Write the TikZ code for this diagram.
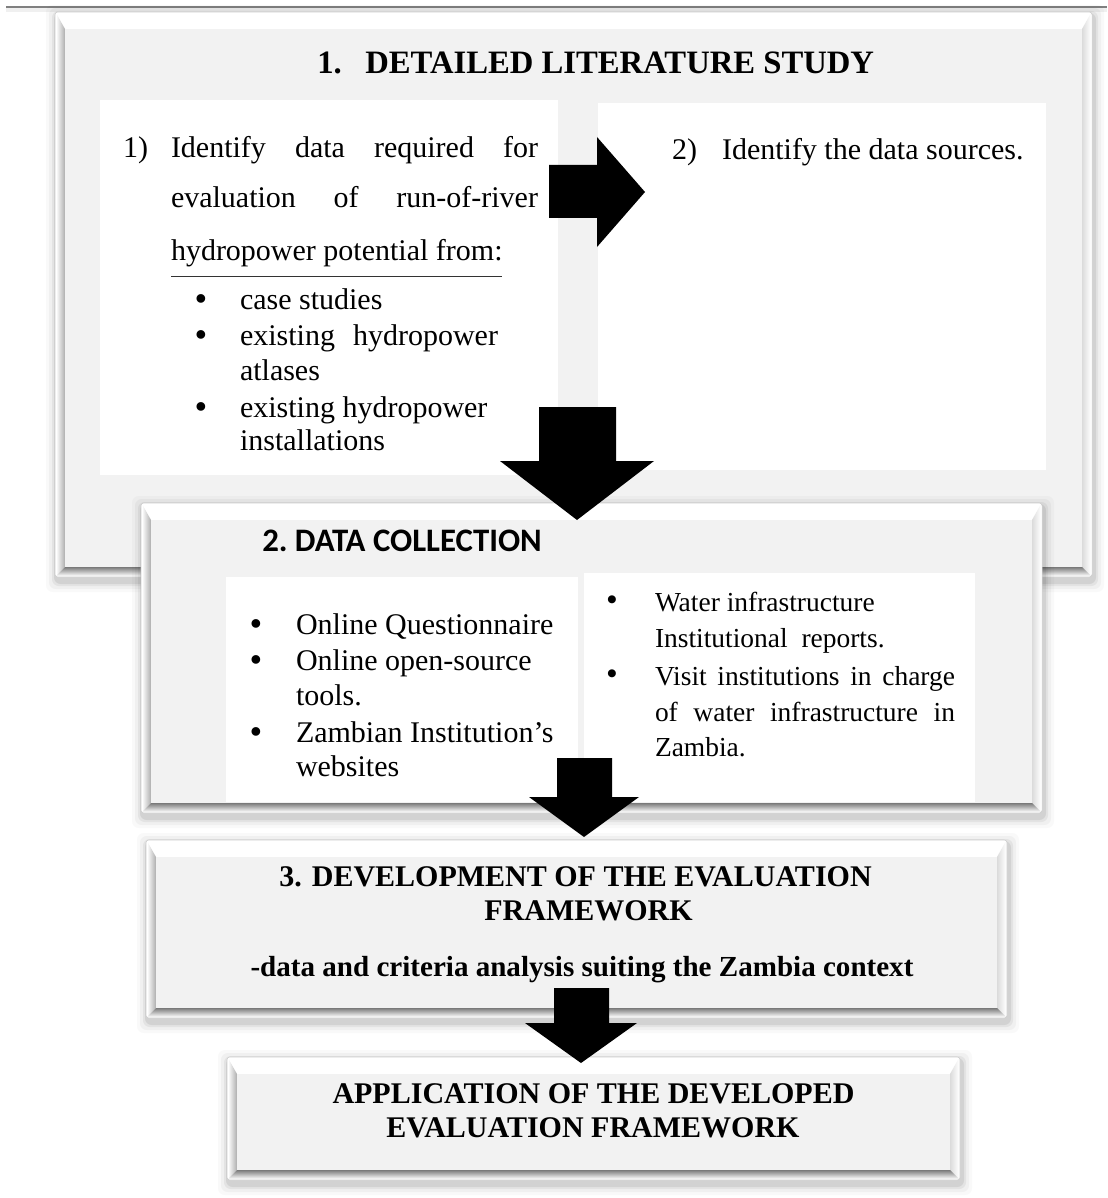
\documentclass[tikz,border=0pt]{standalone}
\usepackage{fontspec}
\setmainfont{Liberation Serif}
\newfontfamily\calib{Carlito}
\newcommand\bevbox[4]{%
  \foreach \s/\o in {10/0.025,7/0.035,4/0.05,2/0.07}{%
    \fill[black,opacity=\o,rounded corners=5] ({#1-\s+1},{#2-\s+3}) rectangle ({#3+\s+2},{#4+\s+5});
  }
  \fill[white,rounded corners=2] (#1,#2) rectangle (#3,#4);
  \shade[left color=white,middle color=white,right color=black!32]
    ({#1+1},{#2+1}) -- ({#1+10},{#2+17}) -- ({#1+10},{#4-10}) -- ({#1+1},{#4-1}) -- cycle;
  \shade[left color=black!14,middle color=white,right color=white]
    ({#3-1},{#2+1}) -- ({#3-10},{#2+17}) -- ({#3-10},{#4-10}) -- ({#3-1},{#4-1}) -- cycle;
  \shade[top color=black!52,middle color=black!22,bottom color=white]
    ({#1+1},{#4-1}) -- ({#1+10},{#4-10}) -- ({#3-10},{#4-10}) -- ({#3-1},{#4-1}) -- cycle;
  \fill[black!5] ({#1+10},{#2+17}) rectangle ({#3-10},{#4-10});
  \draw[black!20,line width=0.4pt,rounded corners=2] (#1,#2) rectangle (#3,#4);
}
\tikzset{
  body/.style={anchor=base west,inner sep=0pt,outer sep=0pt,font=\fontsize{22.5}{27}\selectfont},
  bodyr/.style={anchor=base west,inner sep=0pt,outer sep=0pt,font=\fontsize{20.6}{25}\selectfont},
  bul/.style={anchor=base,inner sep=0pt,outer sep=0pt,font=\bfseries\fontsize{24}{27}\selectfont},
  bulr/.style={anchor=base,inner sep=0pt,outer sep=0pt,font=\bfseries\fontsize{22}{25}\selectfont},
  head/.style={anchor=base,inner sep=0pt,outer sep=0pt,font=\bfseries\fontsize{22.5}{27}\selectfont},
  panel/.style={fill=white},
  blockarrow/.style={fill=black}
}
\begin{document}
\begin{tikzpicture}[x=0.75pt,y=-0.75pt]
\useasboundingbox (0,0) rectangle (1107,1198);
\fill[white] (0,0) rectangle (1107,1198);
% top rule
\fill[black!6] (6,8) rectangle (1107,12);
\draw[black!50,line width=1.1pt] (6,7) -- (1107,7);

% ---------- Box 1
\bevbox{55}{12}{1092}{577}
\fill[panel] (100,100) rectangle (558,475);
\fill[panel] (598,103) rectangle (1046,470);
\node[anchor=base west,inner sep=0pt,font=\bfseries\fontsize{24.5}{29}\selectfont] (t1n) at (317,74) {1.};
\node[anchor=base west,inner sep=0pt,font=\bfseries\fontsize{24.5}{29}\selectfont] (t1) at (365,74) {DETAILED LITERATURE STUDY};

\node[body] (l1n) at (123,158) {1)};
\node[body] (l1) at (171,158) {\makebox[275.25pt][s]{Identify data required for}};
\node[body] (l2) at (171,208) {\makebox[275.25pt][s]{evaluation of run-of-river}};
\node[body] (l3) at (171,260) {hydropower potential from:};
\coordinate (ul1) at (171,276);
\coordinate (ul2) at (502,276);
\draw[black!80,line width=0.6pt] (ul1) -- (ul2);
\node[bul] (b1) at (201,309) {•};
\node[body] (c1) at (240,309) {case studies};
\node[bul] (b2) at (201,345) {•};
\node[body] (c2) at (240,345) {\makebox[193.5pt][s]{existing hydropower}};
\node[body] (c2b) at (240,380) {atlases};
\node[bul] (b3) at (201,417) {•};
\node[body] (c3) at (240,417) {existing hydropower};
\node[body] (c3b) at (240,450) {installations};

\node[body] (r1n) at (672,160) {2)};
\node[body] (r1) at (722,160) {Identify the data sources.};

% right block arrow
\fill[blockarrow] (549,165) -- (597,165) -- (597,137) -- (645,192) -- (597,247) -- (597,218) -- (549,218) -- cycle;

% ---------- Box 2
\bevbox{141}{503}{1042}{813}
\fill[panel] (226,577) rectangle (578,802);
\fill[panel] (584,573) rectangle (975,802);
\node[anchor=base west,inner sep=0pt,font=\calib\bfseries\fontsize{24.6}{29}\selectfont] (t2) at (262,551) {2.\hspace{0.22em}DATA COLLECTION};

\node[bul] (d1) at (256,634) {•};
\node[body] (e1) at (296,634) {Online Questionnaire};
\node[bul] (d2) at (256,670) {•};
\node[body] (e2) at (296,670) {Online open-source};
\node[body] (e2b) at (296,705) {tools.};
\node[bul] (d3) at (256,742) {•};
\node[body] (e3) at (296,742) {Zambian Institution’s};
\node[body] (e3b) at (296,776) {websites};

\node[bulr] (f1) at (612,609) {•};
\node[bodyr] (g1) at (655,611) {Water infrastructure};
\node[bodyr] (g1b) at (655,647) {Institutional\ \ reports.};
\node[bulr] (f2) at (612,683) {•};
\node[bodyr] (g2) at (655,685) {\makebox[225pt][s]{Visit institutions in charge}};
\node[bodyr] (g2b) at (655,721) {\makebox[225pt][s]{of water infrastructure in}};
\node[bodyr] (g2c) at (655,756) {Zambia.};

% down arrow 1
\fill[blockarrow] (539,407) -- (616,407) -- (616,461) -- (654,461) -- (577,520) -- (500,461) -- (539,461) -- cycle;

% ---------- Box 3
\bevbox{146}{840}{1007}{1018}
\node[head] (h3a) at (575.5,886) {3. DEVELOPMENT OF THE EVALUATION};
\node[head] (h3b) at (588.5,920) {FRAMEWORK};
\node[anchor=base,inner sep=0pt,font=\bfseries\fontsize{21.8}{26}\selectfont] (h3c) at (582,976) {-data and criteria analysis suiting the Zambia context};

% down arrow 2
\fill[blockarrow] (557,758) -- (612,758) -- (612,797) -- (639,797) -- (584,837) -- (529,797) -- (557,797) -- cycle;

% ---------- Box 4
\bevbox{227}{1057}{960}{1180}
\node[head] (h4a) at (593.5,1103) {APPLICATION OF THE DEVELOPED};
\node[head] (h4b) at (593,1137) {EVALUATION FRAMEWORK};

% down arrow 3
\fill[blockarrow] (554,988) -- (609,988) -- (609,1023) -- (637,1023) -- (581,1063) -- (525,1023) -- (554,1023) -- cycle;
\end{tikzpicture}
\end{document}
